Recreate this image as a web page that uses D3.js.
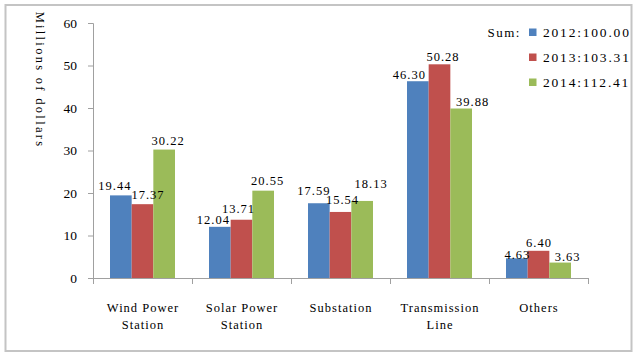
<!DOCTYPE html>
<html><head><meta charset="utf-8">
<script src="https://cdn.jsdelivr.net/npm/d3@7"></script>
<style>body{margin:0;background:#fff}svg{display:block}</style>
</head><body>
<script>
const categories = [["Wind Power","Station"],["Solar Power","Station"],["Substation"],["Transmission","Line"],["Others"]];
const seriesNames = ["2012:100.00","2013:103.31","2014:112.41"];
const values2012 = [19.44, 12.04, 17.59, 46.30, 4.63];
const values2013 = [17.37, 13.71, 15.54, 50.28, 6.40];
const values2014 = [30.22, 20.55, 18.13, 39.88, 3.63];
const yTicks = [0,10,20,30,40,50,60];

// layout / style (not data)
const colors = ["#4F81BD","#C0504D","#9BBB59"];
const labelNudgeX = [[-6.5,-7,-5.5,-9,0],[5,-3.5,1.5,3,0],[3.5,4,8.5,11,7]];
const labelNudgeY = [[-5.5,-2.5,-8,-2,1],[-5,-7,-8,-3,-4],[-5,-5.5,-13,-2.5,-2]];
const series = [values2012, values2013, values2014];

const W = 640, H = 358;
const svg = d3.select("body").append("svg").attr("width", W).attr("height", H);
svg.append("rect").attr("x",5.5).attr("y",5).attr("width",626).attr("height",346)
  .attr("fill","#fff").attr("stroke","#C4C4C4").attr("stroke-width",2);

const x0 = d3.scaleBand().domain(d3.range(categories.length)).range([93, 588]);
const x1 = d3.scaleBand().domain([0,1,2]).range([17, 99-17]);
const y = d3.scaleLinear().domain([0,60]).range([278, 23]);

const serif = "'Liberation Serif', 'Times New Roman', serif";
const axisCol = "#A0A0A0";

// y axis
const yAxis = svg.append("g").attr("transform","translate(93,0)")
  .call(d3.axisLeft(y).tickValues(yTicks).tickSize(5).tickPadding(11).tickFormat(d3.format("d")));
yAxis.attr("font-family", null);
yAxis.select(".domain").attr("stroke",axisCol).attr("d","M-5,23.5H0.5V278.5");
yAxis.selectAll(".tick line").attr("stroke",axisCol);
yAxis.selectAll(".tick text").style("font-family",serif).style("font-size","13.5px").attr("fill","#000");

// x axis
const xAxis = svg.append("g").attr("transform","translate(0,278)");
xAxis.append("line").attr("x1",93).attr("x2",588).attr("y1",0.5).attr("y2",0.5).attr("stroke",axisCol);
const tickPos = d3.range(categories.length).map(i=>x0(i)).concat([x0.range()[1]]);
xAxis.selectAll(".xt").data(tickPos).join("line").attr("x1",d=>Math.round(d)+0.5).attr("x2",d=>Math.round(d)+0.5)
  .attr("y1",0).attr("y2",6).attr("stroke",axisCol);

// category labels
const catG = svg.append("g");
categories.forEach((lines,i)=>{
  const cx = x0(i)+x0.bandwidth()/2;
  lines.forEach((t,j)=>{
    catG.append("text").attr("x",cx+0.5).attr("y",312+j*17).attr("text-anchor","middle")
      .style("font-family",serif).style("font-size","12.5px").style("letter-spacing","1px").text(t);
  });
});

// bars
const barLayer = svg.append("g");
const labelLayer = svg.append("g");
series.forEach((vals,s)=>{
  barLayer.append("g").selectAll("rect").data(vals).join("rect")
    .attr("x",(d,i)=>x0(i)+x1(s)).attr("width",x1.bandwidth())
    .attr("y",d=>y(d)).attr("height",d=>y(0)-y(d)).attr("fill",colors[s]);
  labelLayer.append("g").selectAll("text").data(vals).join("text")
    .attr("x",(d,i)=>x0(i)+x1(s)+x1.bandwidth()/2+labelNudgeX[s][i]+0.5)
    .attr("y",(d,i)=>y(d)+labelNudgeY[s][i])
    .attr("text-anchor","middle").style("font-family",serif).style("font-size","12.5px").style("letter-spacing","1px")
    .text(d=>d.toFixed(2));
});

// y title
svg.append("text").attr("transform","translate(36,80) rotate(90)").attr("text-anchor","middle")
  .style("font-family",serif).style("font-size","12.5px").style("letter-spacing","2.3px").text("Millions of dollars");

// legend
const lg = svg.append("g");
lg.append("text").attr("x",521).attr("y",36.5).attr("text-anchor","end").style("font-family",serif)
  .style("font-size","13px").style("letter-spacing","1.5px").text("Sum:");
seriesNames.forEach((n,i)=>{
  lg.append("rect").attr("x",529).attr("y",28.5+i*25).attr("width",7.5).attr("height",7.5).attr("fill",colors[i]);
  lg.append("text").attr("x",543).attr("y",36.5+i*25).style("font-family",serif).style("font-size","13.5px")
    .style("letter-spacing","1.8px").text(n);
});
</script>
</body></html>
